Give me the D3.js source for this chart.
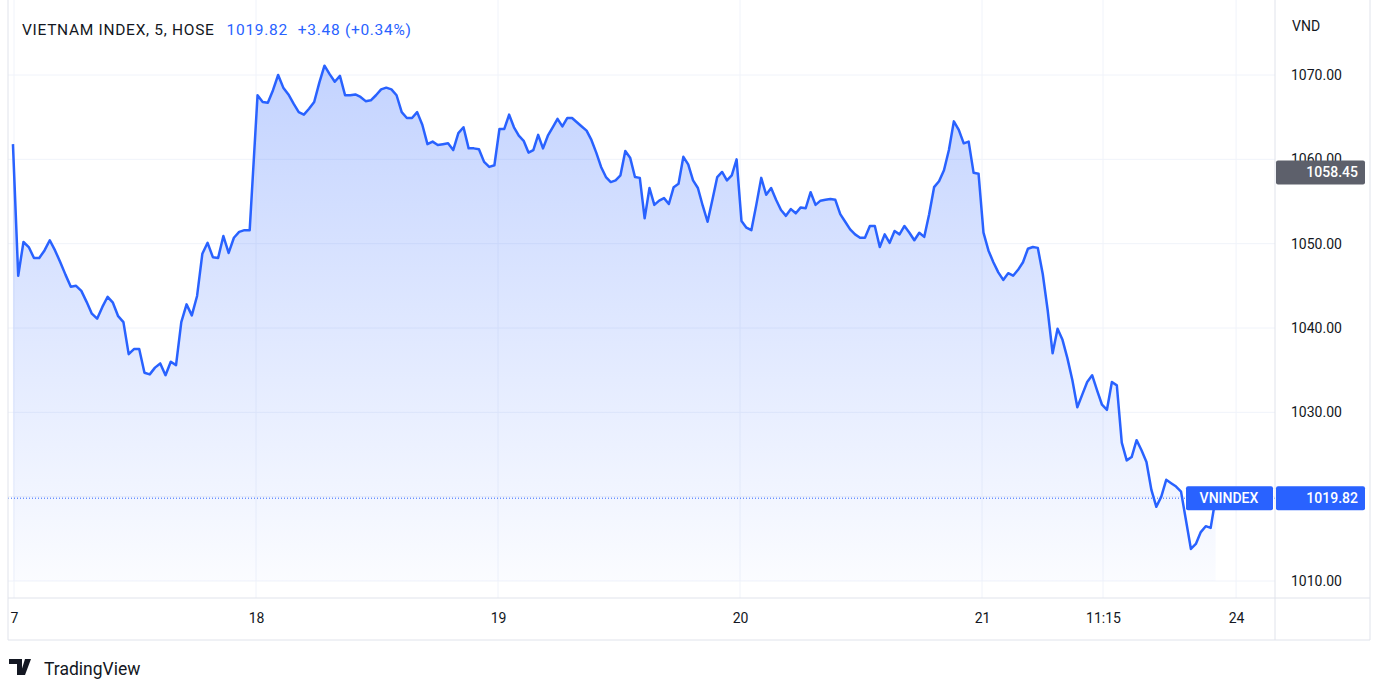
<!DOCTYPE html>
<html><head><meta charset="utf-8">
<script src="https://cdn.jsdelivr.net/npm/d3@7"></script>
<style>body{margin:0;background:#fff}svg{display:block;font-family:Roboto,"Liberation Sans",sans-serif}</style>
</head><body><svg id="c" width="1386" height="694"></svg>
<script>
const day17=[1061.8,1046.2,1050.2,1049.6,1048.3,1048.3,1049.2,1050.4,1049.2,1047.8,1046.3,1044.9,1045.0,1044.4,1043.1,1041.7,1041.1,1042.5,1043.7,1043.0,1041.4,1040.7,1036.9,1037.5,1037.5,1034.7,1034.5,1035.3,1035.8,1034.4,1036.0,1035.6,1040.7,1042.8,1041.5,1043.8,1048.8,1050.1,1048.4,1048.3,1050.9,1048.9,1050.7,1051.4,1051.6,1051.6];
const day18=[1067.6,1066.8,1066.7,1068.2,1070.0,1068.5,1067.7,1066.6,1065.6,1065.3,1066.0,1066.8,1069.1,1071.1,1070.1,1069.2,1069.9,1067.6,1067.6,1067.7,1067.4,1066.9,1067.0,1067.6,1068.3,1068.5,1068.3,1067.6,1065.6,1064.9,1064.9,1065.6,1064.1,1061.8,1062.1,1061.7,1061.8,1061.9,1061.1,1063.1,1063.8,1061.3,1061.3,1061.2,1059.7,1059.1,1059.3];
const day19=[1063.6,1063.6,1065.3,1063.8,1062.8,1062.2,1060.8,1061.1,1062.9,1061.3,1062.8,1063.8,1064.8,1063.9,1064.9,1064.9,1064.4,1063.9,1063.4,1062.3,1060.8,1059.1,1057.9,1057.3,1057.5,1058.1,1061.0,1060.2,1057.9,1057.8,1053.0,1056.6,1054.6,1055.1,1055.4,1054.7,1056.7,1057.1,1060.3,1059.4,1057.5,1056.6,1054.5,1052.6,1055.2,1057.9,1058.5,1057.5,1058.1,1060.0];
const day20=[1052.7,1051.9,1051.6,1054.6,1057.8,1055.8,1056.6,1055.2,1054.0,1053.3,1054.1,1053.6,1054.3,1054.2,1056.1,1054.6,1055.1,1055.2,1055.3,1055.2,1053.5,1052.6,1051.7,1051.1,1050.7,1050.7,1052.1,1052.1,1049.6,1051.1,1050.1,1051.5,1051.1,1052.1,1051.3,1050.4,1051.3,1050.8,1053.5,1056.7,1057.4,1058.7,1061.1,1064.5,1063.5,1061.9,1062.1,1058.4,1058.3];
const day21=[1051.3,1049.2,1047.8,1046.6,1045.7,1046.5,1046.2,1046.9,1047.8,1049.4,1049.6,1049.5,1046.4,1042.1,1037.0,1039.9,1038.6,1036.4,1033.8,1030.6,1032.1,1033.6,1034.4,1032.6,1030.9,1030.3,1033.6,1033.2,1026.4,1024.3,1024.7,1026.7,1025.5,1024.1,1020.8,1018.8,1020.0,1022.0,1021.6,1021.2,1020.6,1017.2,1013.8,1014.4,1015.8,1016.5,1016.3,1019.82];
const days=[day17,day18,day19,day20,day21];
const xTickLabels=["7","18","19","20","21","11:15","24"];
const xTickPos=[0,1,2,3,4,4.5,5.05];
const yTicks=[1010,1020,1030,1040,1050,1060,1070];
const hiddenTicks=[1020];
const lastValue=1019.82, highlightValue=1058.45;

const data=[];
days.forEach((arr,d)=>{const n=d===4?49:arr.length;const off=d===0?-0.2:0.3;arr.forEach((v,i)=>data.push({t:d+(i+off)/n,v}));});

const svg=d3.select("#c");
const x=d3.scaleLinear().domain([0,5]).range([14,1224]);
const y=d3.scaleLinear().domain([1010,1070]).range([581,75]);
const L=8,R=1275,B=598,grid="#f0f3fa",border="#e0e3eb";

const defs=svg.append("defs");
const g=defs.append("linearGradient").attr("id","fill").attr("x1",0).attr("x2",0).attr("y1",0).attr("y2",1);
g.append("stop").attr("offset","0%").attr("stop-color","#2962ff").attr("stop-opacity",0.28);
g.append("stop").attr("offset","100%").attr("stop-color","#2962ff").attr("stop-opacity",0.02);
defs.append("clipPath").attr("id","clip").append("rect").attr("x",L).attr("y",0).attr("width",R-L).attr("height",B);

yTicks.forEach(t=>svg.append("line").attr("x1",L).attr("x2",R).attr("y1",y(t)).attr("y2",y(t)).attr("stroke",grid));
xTickPos.forEach(p=>svg.append("line").attr("x1",x(p)).attr("x2",x(p)).attr("y1",0).attr("y2",B).attr("stroke",grid));

const pl=svg.append("g").attr("clip-path","url(#clip)");
pl.append("path").datum(data).attr("fill","url(#fill)")
 .attr("d",d3.area().x(d=>x(d.t)).y0(y(1010)).y1(d=>y(d.v)));
pl.append("path").datum(data).attr("fill","none").attr("stroke","#2962ff").attr("stroke-width",2.5).attr("stroke-linejoin","round")
 .attr("d",d3.line().x(d=>x(d.t)).y(d=>y(d.v)));
pl.append("line").attr("x1",L).attr("x2",R).attr("y1",y(lastValue)).attr("y2",y(lastValue)).attr("stroke","#2962ff").attr("stroke-dasharray","1,2");

svg.append("line").attr("x1",L).attr("x2",1370).attr("y1",B).attr("y2",B).attr("stroke",border);
svg.append("line").attr("x1",L).attr("x2",1370).attr("y1",640).attr("y2",640).attr("stroke",border);
svg.append("line").attr("x1",R).attr("x2",R).attr("y1",0).attr("y2",640).attr("stroke",border);
svg.append("line").attr("x1",1370).attr("x2",1370).attr("y1",0).attr("y2",640).attr("stroke",border);
svg.append("line").attr("x1",L).attr("x2",L).attr("y1",0).attr("y2",640).attr("stroke",border);

const ya=svg.append("g").attr("transform",`translate(${R},0)`).call(d3.axisRight(y).tickValues(yTicks.filter(t=>!hiddenTicks.includes(t))).tickFormat(d3.format(".2f")).tickSize(0).tickPadding(16));
ya.select(".domain").remove();
ya.selectAll("text").attr("font-size",14).attr("fill","#131722").attr("font-family","Roboto,sans-serif");
const xa=svg.append("g").attr("transform",`translate(0,${B})`).call(d3.axisBottom(x).tickValues(xTickPos).tickFormat((d,i)=>xTickLabels[i]).tickSize(0).tickPadding(15));
xa.select(".domain").remove();
xa.selectAll("text").attr("font-size",14).attr("fill","#131722").attr("font-family","Roboto,sans-serif");

svg.append("text").attr("x",1292).attr("y",31).attr("font-size",14).attr("fill","#131722").text("VND");

const hy=y(highlightValue);
svg.append("rect").attr("x",R+1).attr("y",hy-12).attr("width",89).attr("height",24).attr("rx",2).attr("fill","#5d606b");
svg.append("text").attr("x",1358).attr("y",hy+5).attr("text-anchor","end").attr("font-size",14).attr("font-weight",500).attr("fill","#fff").text(highlightValue.toFixed(2));
const ly=y(lastValue);
svg.append("rect").attr("x",1186).attr("y",ly-12).attr("width",87).attr("height",24).attr("rx",2).attr("fill","#2962ff");
svg.append("text").attr("x",1229).attr("y",ly+5).attr("text-anchor","middle").attr("font-size",14).attr("font-weight",500).attr("fill","#fff").text("VNINDEX");
svg.append("rect").attr("x",R+1).attr("y",ly-12).attr("width",89).attr("height",24).attr("rx",2).attr("fill","#2962ff");
svg.append("text").attr("x",1358).attr("y",ly+5).attr("text-anchor","end").attr("font-size",14).attr("font-weight",500).attr("fill","#fff").text(lastValue.toFixed(2));

const h=svg.append("text").attr("x",22).attr("y",35).attr("font-size",15.5).attr("letter-spacing",0.7);
h.append("tspan").attr("fill","#131722").text("VIETNAM INDEX, 5, HOSE");
h.append("tspan").attr("fill","#2962ff").attr("dx",12).text("1019.82");
h.append("tspan").attr("fill","#2962ff").attr("dx",10).text("+3.48 (+0.34%)");

svg.append("path").attr("d","M9 659h13v16h-5v-11h-8z M25 659h6l-6 16h-5z").attr("fill","#131722");
svg.append("circle").attr("cx",26).attr("cy",661.5).attr("r",0).attr("fill","#131722");
svg.append("text").attr("x",44).attr("y",675).attr("font-size",17.5).attr("fill","#131722").text("TradingView");
</script></body></html>
